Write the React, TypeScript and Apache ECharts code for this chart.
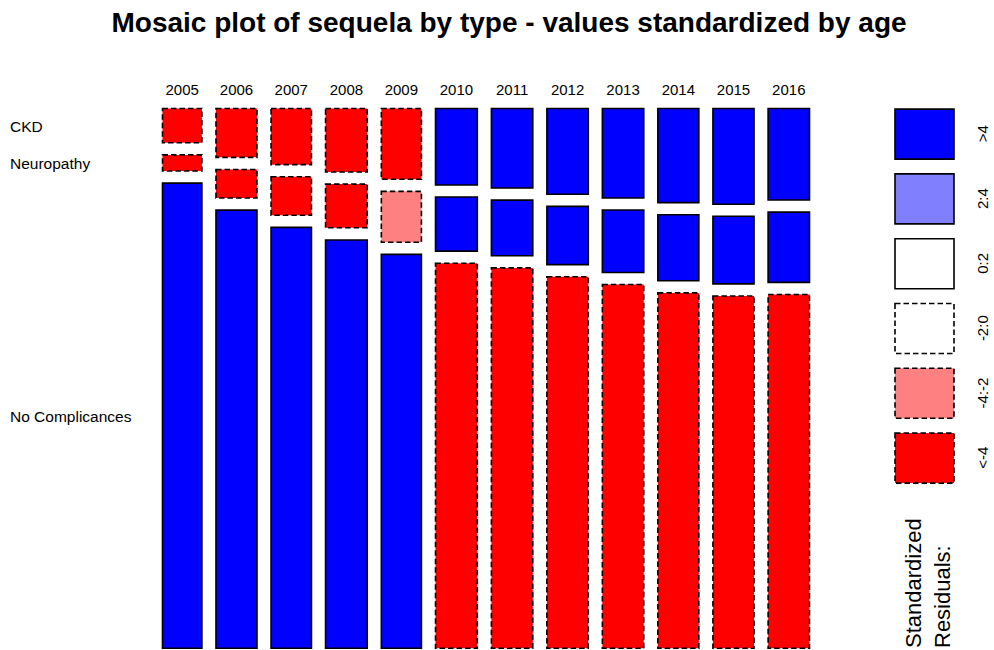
import React, { useEffect, useRef } from "react";
import * as echarts from "echarts";

// ---- data ----
const years = ["2005", "2006", "2007", "2008", "2009", "2010", "2011", "2012", "2013", "2014", "2015", "2016"];
// relative column widths (share of patients per year)
const colShare = [41, 42.6, 42, 43.3, 41.7, 43.4, 43, 43, 43, 42.6, 42.7, 43];
// row shares per year (percent)
const ckdPct = [6.9, 9.7, 11.1, 12.5, 13.9, 15.0, 15.6, 16.8, 17.5, 18.4, 18.7, 17.9];
const neuroPct = [3.4, 5.8, 7.7, 8.7, 10.1, 10.7, 11.0, 11.5, 12.3, 13.0, 13.3, 13.8];
const noCompPct = [89.7, 84.5, 81.2, 78.7, 76.0, 74.3, 73.4, 71.7, 70.2, 68.6, 68.0, 68.3];
// standardized residual classes per cell
const ckdClass = ["<-4", "<-4", "<-4", "<-4", "<-4", ">4", ">4", ">4", ">4", ">4", ">4", ">4"];
const neuroClass = ["<-4", "<-4", "<-4", "<-4", "-4:-2", ">4", ">4", ">4", ">4", ">4", ">4", ">4"];
const noCompClass = [">4", ">4", ">4", ">4", ">4", "<-4", "<-4", "<-4", "<-4", "<-4", "<-4", "<-4"];
const rowNames = ["CKD", "Neuropathy", "No Complicances"];
const legendLabels = [">4", "2:4", "0:2", "-2:0", "-4:-2", "<-4"];
const legendFills = ["#0000FF", "#8080FF", "#FFFFFF", "#FFFFFF", "#FF8080", "#FF0000"];

const titleText = "Mosaic plot of sequela by type - values standardized by age";
const FONT = "'Liberation Sans', Arial, Helvetica, sans-serif";

const fillOf = (c: string) => legendFills[legendLabels.indexOf(c)];
const isDashed = (c: string) => c.startsWith("-") || c.startsWith("<");

const X_GAP = 12.5;
const Y_GAP = 2.02;

export default function App() {
  const ref = useRef<HTMLDivElement>(null);

  useEffect(() => {
    if (!ref.current) return;
    const chart = echarts.init(ref.current, null, { renderer: "svg" });

    const rowsPct = [ckdPct, neuroPct, noCompPct];
    const rowsClass = [ckdClass, neuroClass, noCompClass];

    // build mosaic cells from the data
    const cells: any[] = [];
    let x = 0;
    years.forEach((_, i) => {
      const total = ckdPct[i] + neuroPct[i] + noCompPct[i];
      let y = 0;
      rowsPct.forEach((row, r) => {
        const h = (row[i] / total) * 100;
        cells.push([x, x + colShare[i], y, y + h, i, r, rowsClass[r][i]]);
        y += h + Y_GAP;
      });
      x += colShare[i] + X_GAP;
    });
    const xTotal = x - X_GAP;
    const yTotal = 100 + 2 * Y_GAP;

    const legendGraphics: any[] = [];
    legendLabels.forEach((lab, k) => {
      const top = 108.3 + k * 64.8;
      legendGraphics.push({
        type: "rect",
        shape: { x: 895, y: top + 0.8, width: 59, height: 50 },
        style: {
          fill: legendFills[k],
          stroke: "#000",
          lineWidth: 1.6,
          lineDash: isDashed(lab) ? [5.5, 3] : null,
        },
      });
      legendGraphics.push({
        type: "text",
        x: 982,
        y: top + 25.5,
        rotation: Math.PI / 2,
        style: {
          text: lab,
          fontFamily: FONT,
          fontSize: 15,
          fill: "#000",
          align: "center",
          verticalAlign: "middle",
        },
      });
    });

    chart.setOption({
      animation: false,
      grid: { left: 161.7, top: 107.7, width: 648.6, height: 541.3 },
      xAxis: { type: "value", min: 0, max: xTotal, show: false },
      yAxis: { type: "value", min: 0, max: yTotal, inverse: true, show: false },
      graphic: [
        {
          type: "text",
          x: 509,
          y: 22.5,
          style: {
            text: titleText,
            fontFamily: FONT,
            fontSize: 28,
            fontWeight: "bold",
            fill: "#000",
            align: "center",
            verticalAlign: "middle",
          },
        },
        ...legendGraphics,
        {
          type: "text",
          x: 899,
          y: 648,
          rotation: Math.PI / 2,
          style: {
            text: "Standardized\nResiduals:",
            fontFamily: FONT,
            fontSize: 22,
            lineHeight: 29,
            fill: "#000",
            align: "left",
            verticalAlign: "top",
          },
        },
      ],
      series: [
        {
          type: "custom",
          clip: false,
          data: cells,
          encode: { x: [0, 1], y: [2, 3] },
          renderItem: (params: any, api: any) => {
            const p0 = api.coord([api.value(0), api.value(2)]);
            const p1 = api.coord([api.value(1), api.value(3)]);
            const colIdx = api.value(4);
            const rowIdx = api.value(5);
            const cls = cells[params.dataIndex][6];
            const lw = 1.6;
            const children: any[] = [
              {
                type: "rect",
                shape: {
                  x: p0[0] + lw / 2,
                  y: p0[1] + lw / 2,
                  width: p1[0] - p0[0] - lw,
                  height: p1[1] - p0[1] - lw,
                },
                style: {
                  fill: fillOf(cls),
                  stroke: "#000",
                  lineWidth: lw,
                  lineDash: isDashed(cls) ? [5.5, 3] : null,
                },
              },
            ];
            if (rowIdx === 0) {
              children.push({
                type: "text",
                x: (p0[0] + p1[0]) / 2,
                y: p0[1] - 18.5,
                style: {
                  text: years[colIdx],
                  fontFamily: FONT,
                  fontSize: 15,
                  fill: "#000",
                  align: "center",
                  verticalAlign: "middle",
                },
              });
            }
            if (colIdx === 0) {
              children.push({
                type: "text",
                x: 10,
                y: (p0[1] + p1[1]) / 2 + 1,
                style: {
                  text: rowNames[rowIdx],
                  fontFamily: FONT,
                  fontSize: 15.5,
                  fill: "#000",
                  align: "left",
                  verticalAlign: "middle",
                },
              });
            }
            return { type: "group", children };
          },
        },
      ],
    });

    return () => chart.dispose();
  }, []);

  return (
    <div
      ref={ref}
      style={{ position: "fixed", left: 0, top: 0, width: 994, height: 650, background: "#fff" }}
    />
  );
}
